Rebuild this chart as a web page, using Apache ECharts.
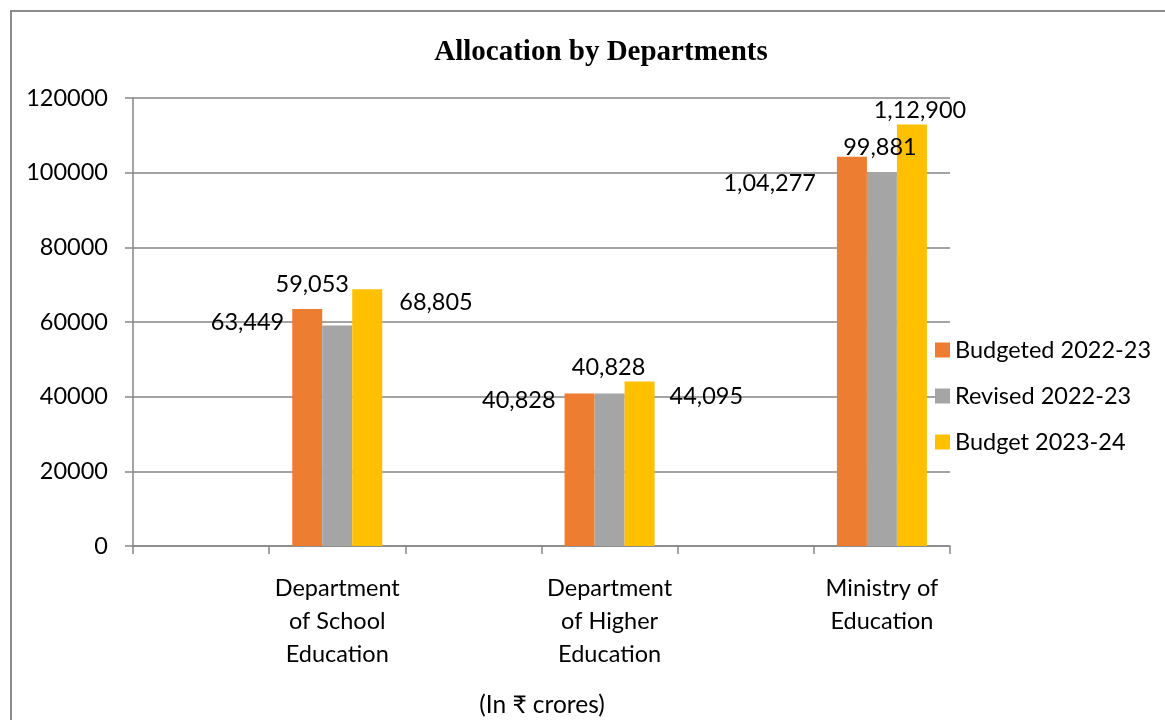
<!DOCTYPE html>
<html>
<head>
<meta charset="utf-8">
<script src="https://cdn.jsdelivr.net/npm/echarts@6/dist/echarts.min.js"></script>
<style>
  body { margin: 0; background: #fff; }
  #chart { width: 1165px; height: 720px; }
</style>
</head>
<body>
<div id="chart"></div>
<script>
// departments sit in every second slot, Excel-style, with empty slots between them
const departments = ['Department\nof School\nEducation', 'Department\nof Higher\nEducation', 'Ministry of\nEducation']
const seriesNames = ['Budgeted 2022-23', 'Revised 2022-23', 'Budget 2023-24']
const budgeted2223 = [63449, 40828, 104277]
const revised2223 = [59053, 40828, 99881]
const budget2324 = [68805, 44095, 112900]
const yTicks = { min: 0, max: 120000, interval: 20000 }

const colors = ['#ED7D31', '#A5A5A5', '#FFC000']
const fontFamily = 'Lato, "Noto Sans", sans-serif'
const fs = 23.5

// label placement per bar (relative to each bar's top-left corner)
const labelPos = [
  [{ p: [-8, 13], a: 'right' }, { p: [-9, 7], a: 'right' }, { p: [-21, 27], a: 'right' }],
  [{ p: [-10, -41], a: 'center' }, { p: [14, -26], a: 'center' }, { p: [13, -26], a: 'center' }],
  [{ p: [47, 13], a: 'left' }, { p: [45, 15], a: 'left' }, { p: [23, -14], a: 'center' }]
]

function indianFormat(n) {
  const s = String(n)
  if (s.length <= 3) return s
  const last3 = s.slice(-3)
  let rest = s.slice(0, -3)
  const parts = []
  while (rest.length > 2) {
    parts.unshift(rest.slice(-2))
    rest = rest.slice(0, -2)
  }
  if (rest) parts.unshift(rest)
  return parts.join(',') + ',' + last3
}

const categories = []
departments.forEach(d => { categories.push(''); categories.push(d) })

function buildData(values, si) {
  const out = []
  values.forEach((v, i) => {
    out.push('-')
    out.push({
      value: v,
      label: {
        position: labelPos[si][i].p,
        align: labelPos[si][i].a,
        verticalAlign: 'middle'
      }
    })
  })
  return out
}

const chart = echarts.init(document.getElementById('chart'))

const option = {
  animation: false,
  textStyle: { fontFamily: fontFamily },
  graphic: [
    {
      type: 'rect',
      shape: { x: 11, y: 11, width: 1200, height: 800 },
      style: { fill: 'none', stroke: '#8c8c8c', lineWidth: 2 },
      silent: true
    },
    {
      type: 'text',
      x: 542,
      y: 705,
      style: {
        text: '(In ₹ crores)',
        font: '24.5px ' + fontFamily,
        fill: '#000',
        align: 'center',
        verticalAlign: 'middle'
      }
    }
  ],
  title: {
    text: 'Allocation by Departments',
    left: 596,
    top: 33,
    textAlign: 'center',
    textStyle: {
      fontFamily: '"Liberation Serif", "Times New Roman", serif',
      fontWeight: 'bold',
      fontSize: 29,
      color: '#000'
    }
  },
  legend: {
    orient: 'vertical',
    left: 930,
    top: 333,
    itemWidth: 15,
    itemHeight: 15,
    itemGap: 22,
    icon: 'rect',
    textStyle: { fontSize: fs, color: '#000', fontFamily: fontFamily },
    data: seriesNames
  },
  grid: { left: 133, right: 215, top: 98, bottom: 174 },
  xAxis: {
    type: 'category',
    data: categories,
    axisLine: { lineStyle: { color: '#868686', width: 1.5 } },
    axisTick: { show: true, alignWithLabel: false, length: 8, lineStyle: { color: '#868686', width: 1.5 } },
    axisLabel: {
      interval: 0,
      margin: 26,
      fontSize: fs,
      lineHeight: 33,
      color: '#000',
      fontFamily: fontFamily
    }
  },
  yAxis: {
    type: 'value',
    min: yTicks.min,
    max: yTicks.max,
    interval: yTicks.interval,
    axisLine: { show: true, lineStyle: { color: '#868686', width: 1.5 } },
    axisTick: { show: true, length: 8, lineStyle: { color: '#868686', width: 1.5 } },
    splitLine: { lineStyle: { color: '#868686', width: 1.5 } },
    axisLabel: {
      fontSize: fs,
      margin: 25,
      color: '#000',
      fontFamily: fontFamily,
      formatter: v => String(v)
    }
  },
  series: [budgeted2223, revised2223, budget2324].map((vals, si) => ({
    name: seriesNames[si],
    type: 'bar',
    barWidth: 30,
    barGap: '0%',
    itemStyle: { color: colors[si] },
    label: {
      show: true,
      fontSize: fs,
      color: '#000',
      fontFamily: fontFamily,
      formatter: p => indianFormat(p.value)
    },
    data: buildData(vals, si)
  }))
}

chart.setOption(option)
</script>
</body>
</html>
